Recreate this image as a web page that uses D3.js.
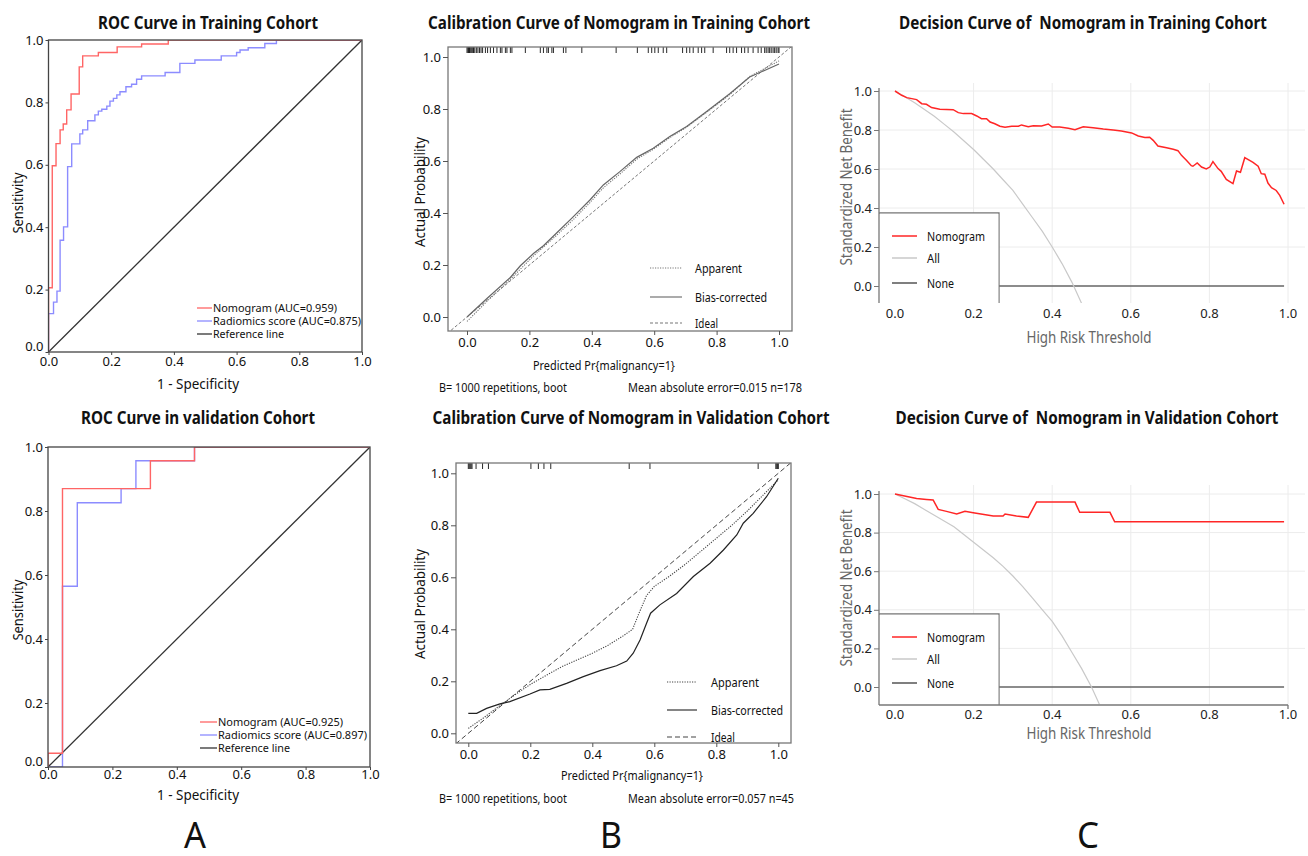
<!DOCTYPE html>
<html><head><meta charset="utf-8">
<script src="https://cdn.jsdelivr.net/npm/d3@7"></script>
<style>body{margin:0;background:#fff}svg{display:block}text{font-family:"Noto Sans","Open Sans",sans-serif;white-space:pre}</style>
</head><body><svg id="c" width="1308" height="856"></svg>
<script>
// ---------------- DATA ----------------
const ticks01 = [0, 0.2, 0.4, 0.6, 0.8, 1.0];
const tickLabels = ["0.0", "0.2", "0.4", "0.6", "0.8", "1.0"];

// ROC training cohort (1-specificity, sensitivity)
const rocTrainNomogram = [[0,0],[0,0.206],[0.012,0.206],[0.012,0.597],[0.024,0.597],[0.024,0.668],[0.037,0.668],[0.037,0.712],[0.047,0.712],[0.047,0.731],[0.058,0.731],[0.058,0.776],[0.072,0.776],[0.072,0.827],[0.098,0.827],[0.098,0.914],[0.109,0.914],[0.109,0.949],[0.159,0.949],[0.159,0.960],[0.219,0.960],[0.219,0.978],[0.297,0.978],[0.297,0.987],[0.382,0.987],[0.382,1],[1,1]];
const rocTrainRadiomics = [[0,0],[0,0.123],[0.016,0.123],[0.016,0.16],[0.027,0.16],[0.027,0.195],[0.037,0.195],[0.037,0.358],[0.048,0.358],[0.048,0.401],[0.061,0.401],[0.061,0.594],[0.074,0.594],[0.074,0.667],[0.1,0.667],[0.1,0.699],[0.109,0.699],[0.109,0.712],[0.125,0.712],[0.125,0.741],[0.148,0.741],[0.148,0.76],[0.159,0.76],[0.159,0.772],[0.17,0.772],[0.17,0.778],[0.186,0.778],[0.186,0.788],[0.196,0.788],[0.196,0.804],[0.207,0.804],[0.207,0.813],[0.218,0.813],[0.218,0.824],[0.228,0.824],[0.228,0.834],[0.247,0.834],[0.247,0.85],[0.265,0.85],[0.265,0.858],[0.281,0.858],[0.281,0.874],[0.297,0.874],[0.297,0.885],[0.372,0.885],[0.372,0.896],[0.419,0.896],[0.419,0.925],[0.467,0.925],[0.467,0.936],[0.551,0.936],[0.551,0.949],[0.6,0.949],[0.6,0.96],[0.611,0.96],[0.611,0.968],[0.637,0.968],[0.637,0.975],[0.69,0.975],[0.69,0.989],[0.727,0.989],[0.727,1],[1,1]];
// ROC validation cohort
const rocValNomogram = [[0,0],[0,0.043],[0.045,0.043],[0.045,0.870],[0.318,0.870],[0.318,0.957],[0.455,0.957],[0.455,1],[1,1]];
const rocValRadiomics = [[0,0],[0.045,0],[0.045,0.565],[0.091,0.565],[0.091,0.826],[0.227,0.826],[0.227,0.870],[0.273,0.870],[0.273,0.957],[0.455,0.957],[0.455,1],[1,1]];
const referenceLine = [[0,0],[1,1]];

const rocTrainLegend = ["Nomogram (AUC=0.959)", "Radiomics score (AUC=0.875)", "Reference line"];
const rocValLegend = ["Nomogram (AUC=0.925)", "Radiomics score (AUC=0.897)", "Reference line"];

// Calibration training cohort (predicted, actual)
const calTrainApparent = [[0,-0.017],[0.064,0.06],[0.139,0.145],[0.213,0.235],[0.288,0.315],[0.341,0.375],[0.394,0.44],[0.437,0.497],[0.49,0.55],[0.544,0.607],[0.597,0.645],[0.65,0.69],[0.704,0.73],[0.768,0.787],[0.842,0.855],[0.906,0.925],[1.0,0.985]];
const calTrainBias = [[0,0],[0.064,0.071],[0.139,0.152],[0.171,0.197],[0.213,0.244],[0.245,0.274],[0.288,0.324],[0.341,0.386],[0.394,0.45],[0.437,0.508],[0.49,0.559],[0.544,0.614],[0.597,0.649],[0.65,0.694],[0.704,0.733],[0.768,0.79],[0.842,0.859],[0.906,0.923],[1.0,0.973]];
const calTrainRug = [0,0.003,0.005,0.008,0.01,0.013,0.016,0.019,0.021,0.025,0.03,0.035,0.04,0.045,0.05,0.059,0.066,0.075,0.085,0.096,0.107,0.112,0.123,0.128,0.139,0.144,0.187,0.235,0.245,0.256,0.261,0.272,0.277,0.309,0.317,0.368,0.478,0.546,0.581,0.592,0.602,0.613,0.629,0.64,0.691,0.704,0.714,0.725,0.741,0.752,0.762,0.789,0.832,0.842,0.853,0.864,0.88,0.89,0.901,0.917,0.933,0.943,0.954,0.959,0.965,0.97,0.975,0.981,0.986,0.991,0.997,1.0];
// Calibration validation cohort
const calValApparent = [[0,0.019],[0.05,0.06],[0.1,0.105],[0.15,0.148],[0.2,0.188],[0.25,0.222],[0.3,0.255],[0.35,0.282],[0.4,0.308],[0.45,0.338],[0.5,0.375],[0.53,0.40],[0.55,0.46],[0.575,0.53],[0.6,0.565],[0.65,0.605],[0.7,0.65],[0.75,0.7],[0.8,0.75],[0.85,0.8],[0.9,0.855],[0.95,0.915],[1.0,0.975]];
const calValBias = [[0,0.077],[0.027,0.077],[0.059,0.096],[0.102,0.113],[0.134,0.122],[0.199,0.151],[0.231,0.167],[0.263,0.169],[0.317,0.192],[0.371,0.218],[0.425,0.241],[0.478,0.26],[0.511,0.278],[0.532,0.308],[0.554,0.359],[0.575,0.423],[0.588,0.462],[0.618,0.494],[0.672,0.538],[0.726,0.603],[0.78,0.654],[0.823,0.705],[0.866,0.763],[0.887,0.808],[0.919,0.846],[0.962,0.91],[1.0,0.981]];
const calValRug = [0,0.003,0.006,0.009,0.012,0.025,0.046,0.065,0.202,0.226,0.244,0.266,0.519,0.586,0.935,0.992,0.995,0.998,1.0];
const calIdeal = [[-0.1,-0.1],[1.1,1.1]];
const calLegend = ["Apparent", "Bias-corrected", "Ideal"];
const calTrainNotes = ["B= 1000 repetitions, boot", "Mean absolute error=0.015 n=178"];
const calValNotes = ["B= 1000 repetitions, boot", "Mean absolute error=0.057 n=45"];

// Decision curves (threshold, standardized net benefit)
const dcaTrainNomogram = [[0,1.0],[0.017,0.978],[0.03,0.966],[0.055,0.956],[0.068,0.935],[0.08,0.932],[0.093,0.915],[0.114,0.906],[0.148,0.904],[0.161,0.889],[0.174,0.884],[0.195,0.884],[0.208,0.872],[0.22,0.858],[0.233,0.858],[0.242,0.841],[0.254,0.832],[0.267,0.819],[0.28,0.814],[0.297,0.819],[0.314,0.819],[0.322,0.826],[0.339,0.817],[0.352,0.822],[0.373,0.821],[0.39,0.831],[0.4,0.815],[0.419,0.815],[0.441,0.809],[0.458,0.802],[0.479,0.817],[0.504,0.812],[0.53,0.805],[0.555,0.8],[0.576,0.795],[0.602,0.785],[0.619,0.769],[0.636,0.761],[0.648,0.763],[0.657,0.747],[0.669,0.718],[0.691,0.709],[0.708,0.701],[0.72,0.694],[0.729,0.67],[0.742,0.644],[0.754,0.617],[0.758,0.614],[0.769,0.631],[0.78,0.61],[0.792,0.6],[0.801,0.61],[0.809,0.638],[0.822,0.602],[0.83,0.588],[0.843,0.547],[0.86,0.525],[0.869,0.59],[0.879,0.583],[0.89,0.658],[0.911,0.634],[0.924,0.614],[0.932,0.576],[0.941,0.573],[0.949,0.528],[0.958,0.504],[0.97,0.49],[0.979,0.465],[0.99,0.419]];
const dcaTrainAll = [[0,1.0],[0.025,0.97],[0.05,0.94],[0.075,0.905],[0.1,0.87],[0.125,0.83],[0.15,0.79],[0.175,0.745],[0.2,0.70],[0.225,0.65],[0.25,0.60],[0.275,0.545],[0.3,0.49],[0.325,0.42],[0.35,0.35],[0.375,0.28],[0.4,0.20],[0.425,0.115],[0.45,0.02],[0.475,-0.09]];
const dcaValNomogram = [[0,1.0],[0.055,0.977],[0.08,0.972],[0.097,0.969],[0.11,0.92],[0.131,0.91],[0.157,0.896],[0.178,0.91],[0.199,0.903],[0.25,0.886],[0.275,0.886],[0.28,0.896],[0.309,0.886],[0.339,0.879],[0.36,0.958],[0.458,0.958],[0.47,0.905],[0.547,0.905],[0.559,0.856],[0.99,0.856]];
const dcaValAll = [[0,1.0],[0.025,0.975],[0.05,0.95],[0.075,0.92],[0.1,0.89],[0.125,0.86],[0.15,0.83],[0.175,0.79],[0.2,0.75],[0.225,0.71],[0.25,0.67],[0.275,0.625],[0.3,0.575],[0.325,0.52],[0.35,0.46],[0.375,0.40],[0.4,0.34],[0.425,0.265],[0.45,0.18],[0.475,0.095],[0.5,0.0],[0.52,-0.09]];
const dcaNone = [[0,0],[0.99,0]];
const dcaLegend = ["Nomogram", "All", "None"];

const titles = ["ROC Curve in Training Cohort", "Calibration Curve of Nomogram in Training Cohort", "Decision Curve of  Nomogram in Training Cohort",
                "ROC Curve in validation Cohort", "Calibration Curve of Nomogram in Validation Cohort", "Decision Curve of  Nomogram in Validation Cohort"];
const panelLetters = ["A", "B", "C"];

// ---------------- DRAWING ----------------
const svg = d3.select("#c");
let clipId = 0;

function txt(g, x, y, s, o = {}) {
  const t = g.append("text").attr("x", x).attr("y", y).text(s)
    .attr("font-size", o.size || 13).attr("fill", o.fill || "#111")
    .attr("text-anchor", o.anchor || "start").attr("dominant-baseline", "central");
  if (o.weight) t.attr("font-weight", o.weight);
  if (o.len) t.attr("textLength", o.len).attr("lengthAdjust", "spacingAndGlyphs");
  if (o.rot) t.attr("transform", `rotate(-90,${x},${y})`);
  return t;
}

function clip(x0, y0, x1, y1) {
  const id = "clip" + (clipId++);
  svg.append("clipPath").attr("id", id).append("rect").attr("x", x0).attr("y", y0).attr("width", x1 - x0).attr("height", y1 - y0);
  return "url(#" + id + ")";
}

function line(g, data, x, y, color, width, dash, cp) {
  const p = g.append("path").datum(data).attr("d", d3.line().x(d => x(d[0])).y(d => y(d[1])))
    .attr("fill", "none").attr("stroke", color).attr("stroke-width", width);
  if (dash) p.attr("stroke-dasharray", dash);
  if (cp) p.attr("clip-path", cp);
  return p;
}

function axisStyle(a, color, size) {
  a.selectAll("path").attr("stroke", color);
  a.selectAll("line").attr("stroke", color);
  a.selectAll("text").attr("font-size", size).attr("fill", "#111").attr("font-family", '"Noto Sans",sans-serif');
}

// ROC panel
function roc(cfg) {
  const g = svg.append("g");
  const x = d3.scaleLinear().domain([0, 1]).range([cfg.x0, cfg.x1]);
  const y = d3.scaleLinear().domain([0, 1]).range([cfg.y0, cfg.y1]);
  const cp = clip(cfg.x0, cfg.y1, cfg.x1, cfg.y0);
  line(g, referenceLine, x, y, "#333", 1.3, null, cp);
  line(g, cfg.rad, x, y, "#8c8cff", 1.4, null, cp);
  line(g, cfg.nom, x, y, "#ff6565", 1.4, null, cp);
  g.append("rect").attr("x", cfg.x0).attr("y", cfg.y1).attr("width", cfg.x1 - cfg.x0).attr("height", cfg.y0 - cfg.y1)
    .attr("fill", "none").attr("stroke", "#444").attr("stroke-width", 1.3);
  const ax = g.append("g").attr("transform", `translate(0,${cfg.y0})`)
    .call(d3.axisBottom(x).tickValues(ticks01).tickFormat((d, i) => tickLabels[i]).tickSize(3).tickPadding(cfg.xpad));
  axisStyle(ax, "#444", 13);
  ax.select(".domain").remove();
  const ay = g.append("g").attr("transform", `translate(${cfg.x0},0)`)
    .call(d3.axisLeft(y).tickValues(ticks01).tickFormat((d, i) => tickLabels[i]).tickSize(3).tickPadding(2));
  axisStyle(ay, "#444", 13);
  ay.select(".domain").remove();
  ay.selectAll("text").attr("dy", (d) => d === 0 ? "-0.1em" : "0.32em");
  txt(g, cfg.tx, cfg.ty, cfg.title, {size: 17, weight: "bold", anchor: "middle", len: cfg.tlen});
  txt(g, 198, cfg.xly, "1 - Specificity", {size: 15, anchor: "middle", len: 82});
  txt(g, 17, cfg.yly, "Sensitivity", {size: 14, anchor: "middle", len: 61, rot: true});
  const cols = ["#ff6565", "#8c8cff", "#333"];
  cfg.legend.forEach((s, i) => {
    const yy = cfg.ly + i * 13;
    g.append("line").attr("x1", cfg.lx).attr("x2", cfg.lx + cfg.lw).attr("y1", yy + 1).attr("y2", yy + 1).attr("stroke", cols[i]).attr("stroke-width", 1.3);
    txt(g, cfg.lx + cfg.lw + 1, yy, s, {size: 11, len: cfg.llen[i]});
  });
}

roc({x0: 48.5, x1: 362, y0: 352, y1: 40, nom: rocTrainNomogram, rad: rocTrainRadiomics, title: titles[0], tx: 208, ty: 22, tlen: 220,
     xpad: 2, xly: 383, yly: 203, legend: rocTrainLegend, lx: 197, lw: 15, ly: 307, llen: [124, 148, 71]});
roc({x0: 48, x1: 370, y0: 767, y1: 447, nom: rocValNomogram, rad: rocValRadiomics, title: titles[3], tx: 198, ty: 417, tlen: 234,
     xpad: 0, xly: 794, yly: 610, legend: rocValLegend, lx: 200, lw: 17, ly: 721, llen: [125, 149, 72]});

// Calibration panel
function cal(cfg) {
  const g = svg.append("g");
  const x = d3.scaleLinear().domain([0, 1]).range([cfg.px0, cfg.px1]);
  const y = d3.scaleLinear().domain([0, 1]).range([cfg.py0, cfg.py1]);
  const cp = clip(cfg.bx0, cfg.by0, cfg.bx1, cfg.by1);
  line(g, calIdeal, x, y, cfg.idealCol, 1, cfg.idealDash, cp);
  line(g, cfg.app, x, y, cfg.appCol, 1.1, "1.2,1.3", cp);
  line(g, cfg.bias, x, y, cfg.biasCol, 1.2, null, cp);
  g.selectAll(null).data(cfg.rug).enter().append("line")
    .attr("x1", d => x(d)).attr("x2", d => x(d)).attr("y1", cfg.by0).attr("y2", cfg.by0 + 6)
    .attr("stroke", "#111").attr("stroke-width", 0.9);
  g.append("rect").attr("x", cfg.bx0).attr("y", cfg.by0).attr("width", cfg.bx1 - cfg.bx0).attr("height", cfg.by1 - cfg.by0)
    .attr("fill", "none").attr("stroke", "#777").attr("stroke-width", 1.3);
  const ax = g.append("g").attr("transform", `translate(0,${cfg.by1})`)
    .call(d3.axisBottom(x).tickValues(ticks01).tickFormat((d, i) => tickLabels[i]).tickSize(4).tickPadding(3));
  axisStyle(ax, "#555", 13);
  ax.select(".domain").remove();
  const ay = g.append("g").attr("transform", `translate(${cfg.bx0},0)`)
    .call(d3.axisLeft(y).tickValues(ticks01).tickFormat((d, i) => tickLabels[i]).tickSize(5).tickPadding(2));
  axisStyle(ay, "#555", 13);
  ay.select(".domain").remove();
  txt(g, cfg.tx, cfg.ty, cfg.title, {size: 17, weight: "bold", anchor: "middle", len: cfg.tlen});
  txt(g, cfg.xlx, cfg.xly, "Predicted Pr{malignancy=1}", {size: 12, anchor: "middle", len: 142});
  txt(g, 419, cfg.yly, "Actual Probability", {size: 15, anchor: "middle", len: 110, rot: true});
  txt(g, 439, cfg.ny, cfg.notes[0], {size: 12, len: 128});
  txt(g, 628, cfg.ny, cfg.notes[1], {size: 12, len: cfg.n2len});
  const dashes = ["1.2,1.3", null, cfg.idealDash];
  const cols = [cfg.appCol, cfg.biasCol, cfg.idealCol];
  calLegend.forEach((s, i) => {
    const yy = cfg.ly[i];
    const l = g.append("line").attr("x1", cfg.lx0).attr("x2", cfg.lx1).attr("y1", yy).attr("y2", yy).attr("stroke", cols[i]).attr("stroke-width", 1.1);
    if (dashes[i]) l.attr("stroke-dasharray", dashes[i]);
    txt(g, cfg.ltx, yy, s, {size: 13, len: cfg.llen[i]});
  });
}

cal({px0: 467, px1: 779, py0: 317, py1: 57, bx0: 448, bx1: 792, by0: 47, by1: 331,
     app: calTrainApparent, bias: calTrainBias, rug: calTrainRug, appCol: "#777", biasCol: "#666", idealCol: "#777", idealDash: "3,2",
     title: titles[1], tx: 619, ty: 22, tlen: 382, xlx: 604, xly: 365, yly: 192, ny: 387, notes: calTrainNotes, n2len: 174,
     lx0: 650, lx1: 682, ltx: 695, ly: [268, 297, 323], llen: [47, 72, 23]});
cal({px0: 468.3, px1: 778.3, py0: 733.3, py1: 473.3, bx0: 456, bx1: 791, by0: 463, by1: 743,
     app: calValApparent, bias: calValBias, rug: calValRug, appCol: "#444", biasCol: "#222", idealCol: "#444", idealDash: "5,3",
     title: titles[4], tx: 631, ty: 417, tlen: 397, xlx: 632, xly: 775, yly: 604, ny: 798, notes: calValNotes, n2len: 166,
     lx0: 667, lx1: 697, ltx: 711, ly: [682, 710, 737], llen: [48, 72, 24]});

// Decision curve panel
function dca(cfg) {
  const g = svg.append("g");
  const x = d3.scaleLinear().domain([0, 1]).range([895, 1288]);
  const y = d3.scaleLinear().domain([0, 1]).range([cfg.y0, cfg.y1]);
  const top = cfg.gridTop, bot = cfg.bottom;
  const cp = clip(879, top, 1308, bot);
  g.selectAll(null).data([0.2, 0.4, 0.6, 0.8, 1.0]).enter().append("line")
    .attr("x1", d => x(d)).attr("x2", d => x(d)).attr("y1", top).attr("y2", bot).attr("stroke", "#ececec").attr("stroke-width", 1);
  g.selectAll(null).data([0.2, 0.4, 0.6, 0.8, 1.0]).enter().append("line")
    .attr("x1", 879).attr("x2", 1305).attr("y1", d => y(d)).attr("y2", d => y(d)).attr("stroke", "#ececec").attr("stroke-width", 1);
  line(g, dcaNone, x, y, "#666", 1.5, null, cp);
  line(g, cfg.all, x, y, "#c9c9c9", 1.2, null, cp);
  line(g, cfg.nom, x, y, "#ff2626", 1.5, null, cp);
  g.append("path").attr("d", `M879,${cfg.lby}H999V${bot}`).attr("fill", "#fff").attr("stroke", "#777").attr("stroke-width", 1.3);
  g.append("rect").attr("x", 880).attr("y", cfg.lby + 0.7).attr("width", 118.3).attr("height", bot - cfg.lby).attr("fill", "#fff");
  const cols = ["#ff2626", "#c9c9c9", "#555"];
  dcaLegend.forEach((s, i) => {
    const yy = cfg.ly[i];
    g.append("line").attr("x1", 892).attr("x2", 917).attr("y1", yy).attr("y2", yy).attr("stroke", cols[i]).attr("stroke-width", 1.5);
    txt(g, 927, yy, s, {size: 13, len: [58, 13, 27][i]});
  });
  const ay = g.append("g").attr("transform", "translate(879,0)")
    .call(d3.axisLeft(y).tickValues(ticks01).tickFormat((d, i) => tickLabels[i]).tickSize(5).tickPadding(2).tickSizeOuter(0));
  axisStyle(ay, "#777", 13);
  ay.select(".domain").attr("d", `M0,${cfg.axTop}V${bot}`).attr("stroke-width", 1.3);
  ay.selectAll("text").attr("fill", "#222");
  if (cfg.xAxisLine) {
    g.append("line").attr("x1", 879).attr("x2", 1288).attr("y1", bot).attr("y2", bot).attr("stroke", "#777").attr("stroke-width", 1.3);
    g.append("line").attr("x1", 1288).attr("x2", 1288).attr("y1", bot).attr("y2", bot + 4).attr("stroke", "#777").attr("stroke-width", 1.3);
  }
  g.selectAll(null).data(ticks01).enter().append("text")
    .attr("x", d => x(d)).attr("y", cfg.xty).text((d, i) => tickLabels[i])
    .attr("font-size", 13).attr("fill", "#222").attr("text-anchor", "middle").attr("dominant-baseline", "central");
  txt(g, cfg.tx, cfg.ty, cfg.title, {size: 17, weight: "bold", anchor: "middle", len: cfg.tlen});
  txt(g, 1089, cfg.xly, "High Risk Threshold", {size: 16, anchor: "middle", len: 125, fill: "#666"});
  txt(g, 846, cfg.yly, "Standardized Net Benefit", {size: 16, anchor: "middle", len: 157, fill: "#666", rot: true});
}

dca({y0: 286, y1: 91, gridTop: 83, bottom: 303, axTop: 88, nom: dcaTrainNomogram, all: dcaTrainAll, lby: 213, ly: [236, 258, 283],
     xty: 313, title: titles[2], tx: 1083, ty: 22, tlen: 368, xly: 337, yly: 187, xAxisLine: false});
dca({y0: 687, y1: 494, gridTop: 485, bottom: 705, axTop: 491, nom: dcaValNomogram, all: dcaValAll, lby: 614, ly: [637, 659, 683],
     xty: 714, title: titles[5], tx: 1087, ty: 417, tlen: 383, xly: 733, yly: 588, xAxisLine: true});

// panel letters
[195, 611, 1088].forEach((xx, i) => {
  txt(svg, xx, 834, panelLetters[i], {size: 36, anchor: "middle", len: 22});
});
</script></body></html>
